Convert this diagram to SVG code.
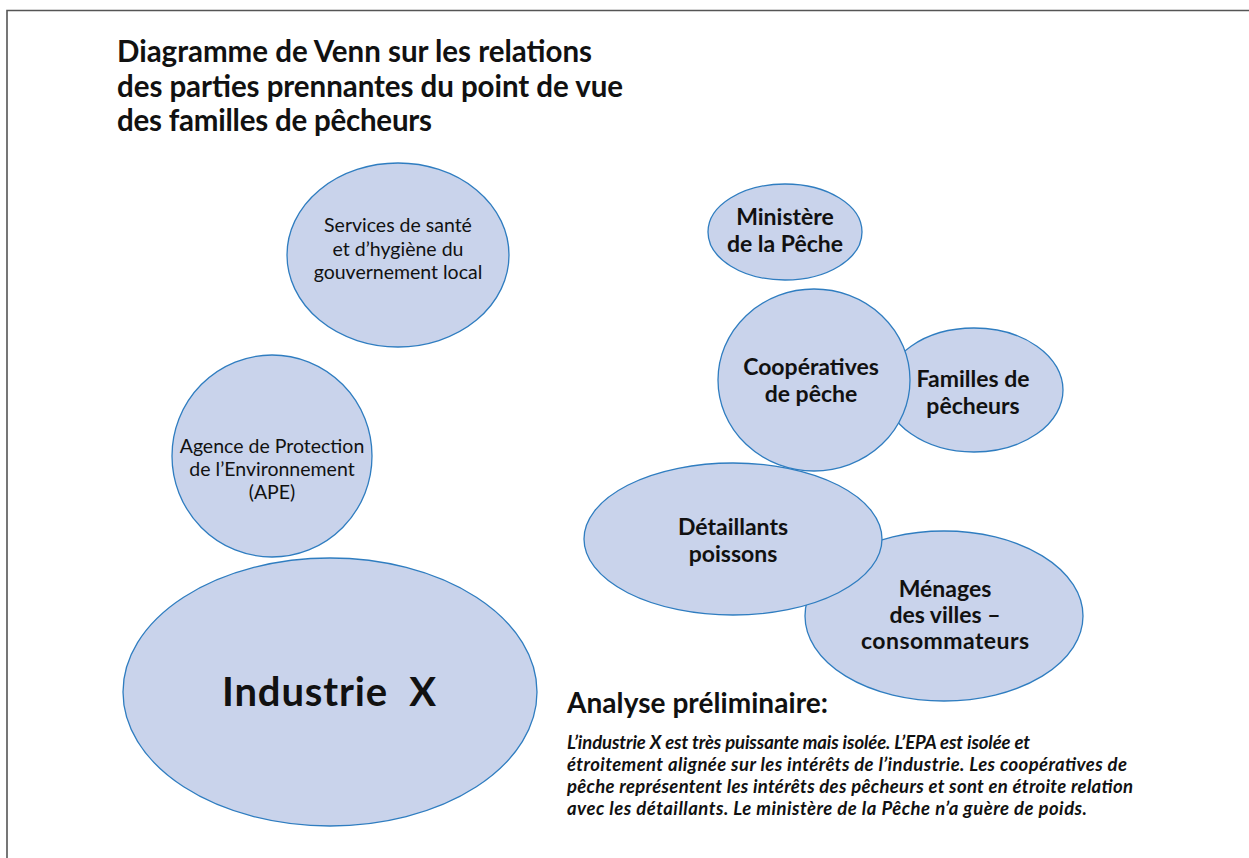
<svg xmlns="http://www.w3.org/2000/svg" width="1249" height="858" viewBox="0 0 1249 858">
<style>
.frame{fill:none;stroke:#555;stroke-width:1.6}
.bub{fill:#c9d3eb;stroke:#2f7dc0;stroke-width:1.3}
text{font-family:Lato,"Open Sans","Liberation Sans",sans-serif;fill:#111}
.t{font-size:29.5px;font-weight:bold}
.r{font-size:19.5px;text-anchor:middle}
.b{font-size:23px;font-weight:bold;text-anchor:middle}
.big{font-size:40px;font-weight:bold;text-anchor:middle}
.h{font-size:28px;font-weight:bold}
.p{font-size:18.5px;font-weight:bold;font-style:italic}
</style>
<rect width="1249" height="858" fill="#fff"/>
<path class="frame" d="M7 858 V10.5 H1249"/>
<g id="title">
<text class="t" x="117" y="62" textLength="475">Diagramme de Venn sur les relations</text>
<text class="t" x="117" y="97" textLength="506">des parties prennantes du point de vue</text>
<text class="t" x="117" y="131" textLength="315">des familles de pêcheurs</text>
</g>
<g id="connectors"/>
<g id="services">
<ellipse class="bub" cx="398" cy="255" rx="111" ry="92"/>
<text class="r" x="398" y="232">Services de santé</text>
<text class="r" x="398" y="256">et d’hygiène du</text>
<text class="r" x="398" y="279">gouvernement local</text>
</g>
<g id="ape">
<ellipse class="bub" cx="272" cy="456" rx="100" ry="101"/>
<text class="r" x="272" y="453">Agence de Protection</text>
<text class="r" x="272" y="476">de l’Environnement</text>
<text class="r" x="272" y="499">(APE)</text>
</g>
<g id="industrie">
<ellipse class="bub" cx="330" cy="692" rx="207" ry="134"/>
<text class="big" x="329" y="706" xml:space="preserve" textLength="214">Industrie  X</text>
</g>
<g id="ministere">
<ellipse class="bub" cx="785" cy="232" rx="77" ry="48"/>
<text class="b" x="785" y="225">Ministère</text>
<text class="b" x="785" y="252">de la Pêche</text>
</g>
<g id="familles">
<ellipse class="bub" cx="974" cy="390" rx="89" ry="62"/>
<text class="b" x="973" y="387">Familles de</text>
<text class="b" x="973" y="414">pêcheurs</text>
</g>
<g id="cooperatives">
<ellipse class="bub" cx="814" cy="380" rx="96" ry="91"/>
<text class="b" x="811" y="375">Coopératives</text>
<text class="b" x="811" y="402">de pêche</text>
</g>
<g id="menages">
<ellipse class="bub" cx="944" cy="616" rx="139" ry="85"/>
<text class="b" x="945" y="597">Ménages</text>
<text class="b" x="945" y="623">des villes –</text>
<text class="b" x="945" y="649" textLength="168">consommateurs</text>
</g>
<g id="detaillants">
<ellipse class="bub" cx="733" cy="539" rx="149" ry="76"/>
<text class="b" x="733" y="535">Détaillants</text>
<text class="b" x="733" y="562">poissons</text>
</g>
<g id="analyse">
<text class="h" x="567" y="713" textLength="261">Analyse préliminaire:</text>
<text class="p" x="567" y="749" textLength="463">L’industrie X est très puissante mais isolée. L’EPA est isolée et</text>
<text class="p" x="567" y="771" textLength="560">étroitement alignée sur les intérêts de l’industrie. Les coopératives de</text>
<text class="p" x="567" y="793" textLength="566">pêche représentent les intérêts des pêcheurs et sont en étroite relation</text>
<text class="p" x="567" y="815" textLength="520">avec les détaillants. Le ministère de la Pêche n’a guère de poids.</text>
</g>
</svg>
